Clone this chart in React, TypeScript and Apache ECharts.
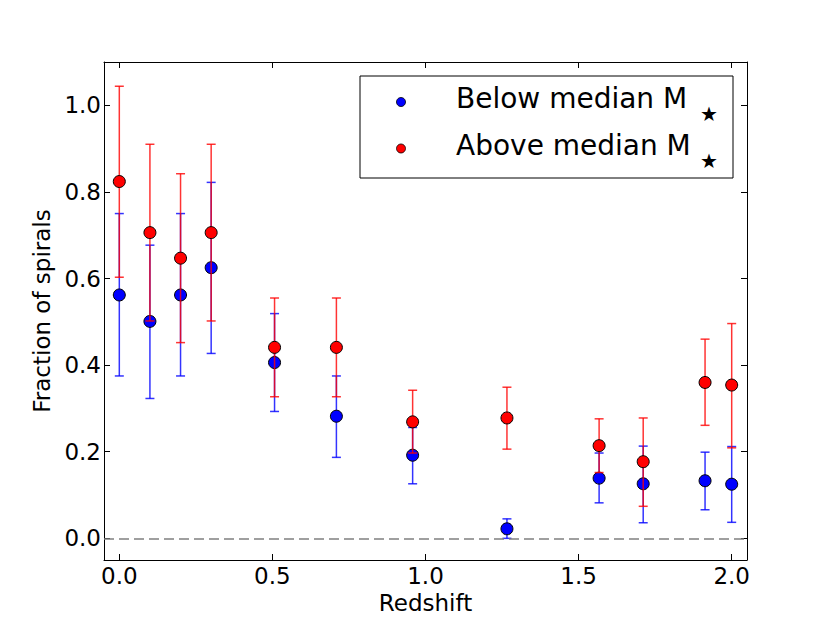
import React, { useEffect, useRef } from "react";
import * as echarts from "echarts";

const redshift = [0.0, 0.1, 0.2, 0.3, 0.507, 0.709, 0.958, 1.266, 1.567, 1.711, 1.913, 2.0];

const belowValue = [0.562, 0.501, 0.562, 0.625, 0.406, 0.282, 0.192, 0.022, 0.139, 0.126, 0.133, 0.125];
const belowUpper = [0.750, 0.677, 0.750, 0.822, 0.519, 0.375, 0.256, 0.045, 0.197, 0.213, 0.199, 0.212];
const belowLower = [0.375, 0.323, 0.375, 0.427, 0.293, 0.187, 0.126, 0.000, 0.082, 0.036, 0.066, 0.037];

const aboveValue = [0.824, 0.706, 0.647, 0.706, 0.441, 0.441, 0.269, 0.278, 0.214, 0.177, 0.360, 0.354];
const aboveUpper = [1.044, 0.910, 0.842, 0.910, 0.555, 0.555, 0.342, 0.349, 0.276, 0.278, 0.460, 0.496];
const aboveLower = [0.603, 0.502, 0.452, 0.502, 0.327, 0.327, 0.197, 0.206, 0.152, 0.074, 0.261, 0.209];

const xTicks = [0.0, 0.5, 1.0, 1.5, 2.0];
const yTicks = [0.0, 0.2, 0.4, 0.6, 0.8, 1.0];

const seriesNames = ["Below median M", "Above median M"];
const seriesColors = ["#0000ff", "#ff0000"];
const subscript = "★";

const FONT = "DejaVu Sans";

function errorRender(color: string) {
  return (params: any, api: any) => {
    const x = api.value(0);
    const lo = api.value(1);
    const hi = api.value(2);
    const pHi = api.coord([x, hi]);
    const pLo = api.coord([x, lo]);
    const hw = 4.5;
    const style = { stroke: color, lineWidth: 1.5, opacity: 0.8 };
    return {
      type: "group",
      children: [
        { type: "line", shape: { x1: pHi[0], y1: pHi[1], x2: pLo[0], y2: pLo[1] }, style },
        { type: "line", shape: { x1: pHi[0] - hw, y1: pHi[1], x2: pHi[0] + hw, y2: pHi[1] }, style },
        { type: "line", shape: { x1: pLo[0] - hw, y1: pLo[1], x2: pLo[0] + hw, y2: pLo[1] }, style },
      ],
    };
  };
}

function legendGraphic() {
  const left = 360;
  const top = 76;
  const rowCenters = [102, 148.5];
  const children: any[] = [
    {
      type: "rect",
      shape: { x: left, y: top, width: 373, height: 102 },
      style: { fill: "#fff", stroke: "#000", lineWidth: 1 },
    },
  ];
  seriesNames.forEach((name, i) => {
    const cy = rowCenters[i];
    children.push({
      type: "circle",
      shape: { cx: 401, cy, r: 4.5 },
      style: { fill: seriesColors[i], stroke: "#000", lineWidth: 0.8 },
    });
    children.push({
      type: "text",
      x: 456,
      y: cy - 3.5,
      style: {
        text: name,
        fill: "#000",
        font: `28px "${FONT}"`,
        align: "left",
        verticalAlign: "middle",
      },
    });
    children.push({
      type: "text",
      x: 700,
      y: cy + 12,
      style: {
        text: subscript,
        fill: "#000",
        font: `20px "${FONT}"`,
        align: "left",
        verticalAlign: "middle",
      },
    });
  });
  return [{ type: "group", z: 100, children }];
}

export default function App() {
  const ref = useRef<HTMLDivElement>(null);
  useEffect(() => {
    document.body.style.margin = "0";
    const chart = echarts.init(ref.current!, null, { renderer: "svg" });
    const axisLineStyle = { color: "#000", width: 1 };
    const option: any = {
      animation: false,
      backgroundColor: "#fff",
      textStyle: { fontFamily: FONT },
      grid: { left: 104, top: 62, width: 643, height: 498, containLabel: false },
      xAxis: [
        {
          type: "value",
          min: -0.05,
          max: 2.05,
          position: "bottom",
          name: "Redshift",
          nameLocation: "middle",
          nameGap: 29,
          nameTextStyle: { fontSize: 23, color: "#000", fontFamily: FONT },
          axisLine: { show: true, onZero: false, lineStyle: axisLineStyle },
          axisTick: { show: true, inside: true, length: 6, customValues: xTicks, lineStyle: axisLineStyle },
          axisLabel: {
            show: true,
            customValues: xTicks,
            formatter: (v: number) => v.toFixed(1),
            fontSize: 23,
            color: "#000",
            fontFamily: FONT,
            margin: 4,
          },
          splitLine: { show: false },
        },
        {
          type: "value",
          min: -0.05,
          max: 2.05,
          position: "top",
          axisLine: { show: true, onZero: false, lineStyle: axisLineStyle },
          axisTick: { show: true, inside: true, length: 6, customValues: xTicks, lineStyle: axisLineStyle },
          axisLabel: { show: false },
          splitLine: { show: false },
        },
      ],
      yAxis: [
        {
          type: "value",
          min: -0.05,
          max: 1.1,
          position: "left",
          name: "Fraction of spirals",
          nameLocation: "middle",
          nameGap: 48,
          nameTextStyle: { fontSize: 23, color: "#000", fontFamily: FONT },
          axisLine: { show: true, onZero: false, lineStyle: axisLineStyle },
          axisTick: { show: true, inside: true, length: 6, customValues: yTicks, lineStyle: axisLineStyle },
          axisLabel: {
            show: true,
            customValues: yTicks,
            formatter: (v: number) => v.toFixed(1),
            fontSize: 23,
            color: "#000",
            fontFamily: FONT,
            margin: 3,
          },
          splitLine: { show: false },
        },
        {
          type: "value",
          min: -0.05,
          max: 1.1,
          position: "right",
          axisLine: { show: true, onZero: false, lineStyle: axisLineStyle },
          axisTick: { show: true, inside: true, length: 6, customValues: yTicks, lineStyle: axisLineStyle },
          axisLabel: { show: false },
          splitLine: { show: false },
        },
      ],
      graphic: legendGraphic(),
      series: [
        {
          type: "custom",
          name: "belowErr",
          z: 2,
          renderItem: errorRender(seriesColors[0]),
          encode: { x: 0, y: [1, 2] },
          data: redshift.map((x, i) => [x, belowLower[i], belowUpper[i]]),
          silent: true,
          markLine: {
            silent: true,
            symbol: ["none", "none"],
            label: { show: false },
            lineStyle: { color: "#808080", type: [10, 5], width: 1.5 },
            data: [{ yAxis: 0 }],
          },
        },
        {
          type: "scatter",
          name: seriesNames[0] + subscript,
          z: 3,
          symbol: "circle",
          symbolSize: 12,
          itemStyle: { color: seriesColors[0], borderColor: "#000", borderWidth: 1, opacity: 1 },
          data: redshift.map((x, i) => [x, belowValue[i]]),
        },
        {
          type: "custom",
          name: "aboveErr",
          z: 4,
          renderItem: errorRender(seriesColors[1]),
          encode: { x: 0, y: [1, 2] },
          data: redshift.map((x, i) => [x, aboveLower[i], aboveUpper[i]]),
          silent: true,
        },
        {
          type: "scatter",
          name: seriesNames[1] + subscript,
          z: 5,
          symbol: "circle",
          symbolSize: 12,
          itemStyle: { color: seriesColors[1], borderColor: "#000", borderWidth: 1, opacity: 1 },
          data: redshift.map((x, i) => [x, aboveValue[i]]),
        },
      ],
    };
    chart.setOption(option);
    return () => chart.dispose();
  }, []);
  return <div ref={ref} style={{ width: 830, height: 623 }} />;
}
